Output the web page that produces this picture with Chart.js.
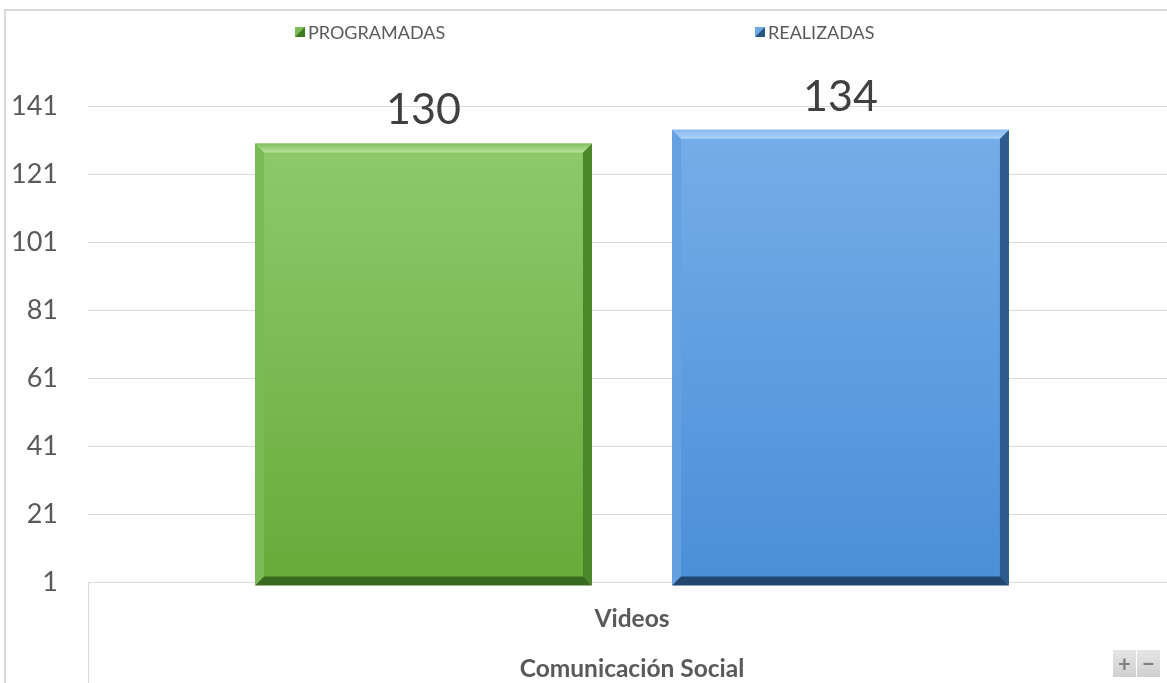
<!DOCTYPE html>
<html><head><meta charset="utf-8">
<script src="https://cdn.jsdelivr.net/npm/chart.js@4/dist/chart.umd.min.js"></script>
<style>html,body{margin:0;padding:0;background:#fff;overflow:hidden;width:1167px;height:683px}#wrap{width:1167px;height:683px;overflow:hidden;position:relative}</style>
</head><body>
<div id="wrap"><canvas id="c" width="1176" height="683"></canvas></div>
<script>
// ---- data ----
const categories = ['Videos'];
const groupLabel = 'Comunicación Social';
const seriesNames = ['PROGRAMADAS', 'REALIZADAS'];
const programadas = [130];
const realizadas = [134];
const yTicks = [1, 21, 41, 61, 81, 101, 121, 141];

// ---- styles ----
const FONT = 'Lato, "Open Sans", sans-serif';
const TEXT = '#595959';
const GRID = '#d9d9d9';
const VIEW_W = 1167;
const styles = [
  { face: ['#8ec96c', '#68ab3a'], top: ['#80c05c', '#b6e29a'], left: '#7bbb55', right: '#4b862b', bottom: '#3a6a20', legend: ['#7dbd57', '#3f7a22'] },
  { face: ['#76ade8', '#4a8fd8'], top: ['#88baee', '#acd2f7'], left: '#65a0e0', right: '#2e5b8d', bottom: '#22466e', legend: ['#6ea8e6', '#2a5687'] }
];

function faceGradient(ctx, i) {
  const chart = ctx.chart, y = chart.scales.y;
  if (!chart.chartArea || !y) return styles[i].face[1];
  const top = y.getPixelForValue(ctx.raw);
  const g = chart.ctx.createLinearGradient(0, top, 0, y.bottom);
  g.addColorStop(0, styles[i].face[0]);
  g.addColorStop(1, styles[i].face[1]);
  return g;
}

const bevelPlugin = {
  id: 'bevel',
  afterDatasetsDraw(chart) {
    const c = chart.ctx;
    chart.data.datasets.forEach((ds, di) => {
      const st = styles[di];
      chart.getDatasetMeta(di).data.forEach(el => {
        const p = el.getProps(['x', 'y', 'base', 'width'], true);
        const l = p.x - p.width / 2, r = p.x + p.width / 2, t = p.y, b = p.base, s = 9;
        const poly = (pts, fill) => { c.beginPath(); c.moveTo(pts[0][0], pts[0][1]); for (let k = 1; k < pts.length; k++) c.lineTo(pts[k][0], pts[k][1]); c.closePath(); c.fillStyle = fill; c.fill(); };
        c.save();
        poly([[l, t], [l + s, t + s], [l + s, b - s], [l, b]], st.left);
        poly([[r, t], [r, b], [r - s, b - s], [r - s, t + s]], st.right);
        poly([[l, b], [r, b], [r - s, b - s], [l + s, b - s]], st.bottom);
        const g = c.createLinearGradient(0, t, 0, t + s);
        g.addColorStop(0, st.top[0]); g.addColorStop(1, st.top[1]);
        poly([[l, t], [r, t], [r - s, t + s], [l + s, t + s]], g);
        c.restore();
      });
    });
  }
};

const labelPlugin = {
  id: 'valueLabels',
  afterDatasetsDraw(chart) {
    const c = chart.ctx;
    c.save();
    c.font = '43px ' + FONT;
    c.fillStyle = '#404040';
    c.textAlign = 'center';
    c.textBaseline = 'alphabetic';
    chart.data.datasets.forEach((ds, di) => {
      chart.getDatasetMeta(di).data.forEach((el, i) => {
        const p = el.getProps(['x', 'y'], true);
        c.fillText(String(ds.data[i]), p.x, p.y - 19);
      });
    });
    c.restore();
  }
};

const legendX = [295, 755];
const legendPlugin = {
  id: 'customLegend',
  afterDraw(chart) {
    const c = chart.ctx;
    c.save();
    c.font = '18px ' + FONT;
    c.textBaseline = 'middle';
    c.textAlign = 'left';
    chart.data.datasets.forEach((ds, di) => {
      const x = legendX[di], y = 32, s = 10;
      c.fillStyle = styles[di].legend[0];
      c.fillRect(x, y - s / 2, s, s);
      c.beginPath(); c.moveTo(x + s, y - s / 2); c.lineTo(x + s, y + s / 2); c.lineTo(x, y + s / 2); c.closePath();
      c.fillStyle = styles[di].legend[1]; c.fill();
      c.fillStyle = TEXT;
      c.fillText(ds.label, x + s + 3, y + 1);
    });
    c.restore();
  }
};

const framePlugin = {
  id: 'frame',
  beforeDraw(chart) {
    const c = chart.ctx;
    c.save();
    c.fillStyle = '#fff';
    c.fillRect(0, 0, chart.width, chart.height);
    c.strokeStyle = GRID; c.lineWidth = 2;
    c.beginPath();
    c.moveTo(5, chart.height); c.lineTo(5, 10); c.lineTo(chart.width, 10);
    c.stroke();
    c.restore();
  },
  afterDraw(chart) {
    const c = chart.ctx;
    c.save();
    const bx = [VIEW_W - 54, VIEW_W - 30], by = 650, w = 23, h = 27;
    bx.forEach((x, k) => {
      const g = c.createLinearGradient(0, by, 0, by + h);
      g.addColorStop(0, '#e6e6e6'); g.addColorStop(1, '#cfcfcf');
      c.fillStyle = g; c.fillRect(x, by, w, h);
      c.fillStyle = '#7f7f7f';
      c.font = 'bold 22px ' + FONT;
      c.textAlign = 'center'; c.textBaseline = 'middle';
      c.fillText(k === 0 ? '+' : '−', x + w / 2, by + h / 2 + 1);
    });
    c.restore();
  }
};

new Chart(document.getElementById('c'), {
  type: 'bar',
  data: {
    labels: categories.map(cat => [cat, groupLabel]),
    datasets: [
      { label: seriesNames[0], data: programadas, backgroundColor: ctx => faceGradient(ctx, 0), borderWidth: 0 },
      { label: seriesNames[1], data: realizadas, backgroundColor: ctx => faceGradient(ctx, 1), borderWidth: 0 }
    ]
  },
  options: {
    responsive: false,
    devicePixelRatio: 1,
    animation: false,
    categoryPercentage: 0.7665,
    barPercentage: 0.808,
    layout: { padding: { top: 106, left: 0, right: 0, bottom: 0 } },
    plugins: { legend: { display: false }, tooltip: { enabled: false } },
    scales: {
      x: {
        offset: true,
        grid: { offset: true, drawOnChartArea: false, drawTicks: true, tickLength: 101, color: GRID, lineWidth: 1 },
        border: { display: true, color: GRID, width: 1 },
        ticks: { color: TEXT, font: { family: FONT, size: 24.5, weight: 'bold', lineHeight: 2.04 }, padding: -89, maxRotation: 0 },
        afterFit(scale) { scale.height = 101; }
      },
      y: {
        min: 1, max: 141,
        grid: { color: GRID, lineWidth: 1, drawTicks: false },
        border: { display: false },
        ticks: { color: TEXT, font: { family: FONT, size: 27 }, padding: 30 },
        afterBuildTicks(scale) { scale.ticks = yTicks.map(v => ({ value: v })); },
        afterFit(scale) { scale.width = 88; }
      }
    }
  },
  plugins: [framePlugin, bevelPlugin, labelPlugin, legendPlugin]
});
</script>
</body></html>
